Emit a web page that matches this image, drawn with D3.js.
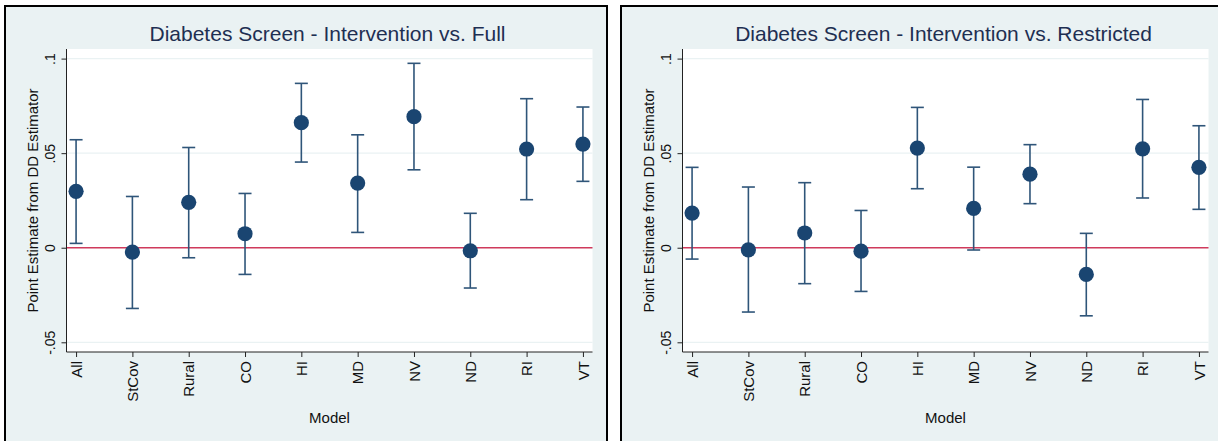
<!DOCTYPE html>
<html>
<head>
<meta charset="utf-8">
<script src="https://cdn.jsdelivr.net/npm/d3@7"></script>
<style>
  body { margin: 0; background: #fff; }
  text { font-family: "Liberation Sans", Arial, sans-serif; }
</style>
</head>
<body>
<div class="chart"></div>
<script>
// categories (models)
const models = ["All", "StCov", "Rural", "CO", "HI", "MD", "NV", "ND", "RI", "VT"];

// Intervention vs. Full
const fullEst = [0.0298, -0.0023, 0.0240, 0.0074, 0.0661, 0.0342, 0.0693, -0.0016, 0.0522, 0.0548];
const fullLo  = [0.0023, -0.0321, -0.0053, -0.0141, 0.0453, 0.0081, 0.0412, -0.0213, 0.0254, 0.0351];
const fullHi  = [0.0571, 0.0271, 0.0530, 0.0287, 0.0869, 0.0597, 0.0975, 0.0182, 0.0788, 0.0744];

// Intervention vs. Restricted
const restEst = [0.0183, -0.0011, 0.0078, -0.0018, 0.0527, 0.0208, 0.0389, -0.0141, 0.0523, 0.0425];
const restLo  = [-0.0060, -0.0340, -0.0190, -0.0231, 0.0312, -0.0012, 0.0233, -0.0360, 0.0263, 0.0203];
const restHi  = [0.0425, 0.0321, 0.0344, 0.0197, 0.0742, 0.0426, 0.0545, 0.0076, 0.0784, 0.0645];

const titles = ["Diabetes Screen - Intervention vs. Full", "Diabetes Screen - Intervention vs. Restricted"];
const yTicks = [-0.05, 0, 0.05, 0.1];
const yTickLabels = ["-.05", "0", ".05", ".1"];

const W = 1218, H = 441;
const PanelOffset = 616;
const Plot = { left: 66.5, right: 592.5, top: 49, bottom: 352 };

const svg = d3.select(".chart").append("svg")
    .attr("width", W)
    .attr("height", H);

// scales (same for both panels)
const x = d3.scalePoint().domain(models).range([Plot.left, Plot.right]).padding(0.17);
const y = d3.scaleLinear().domain([-0.05, 0.1]).range([342.3, 58.6]);

const panels = [
  { est: fullEst, lo: fullLo, hi: fullHi, title: titles[0] },
  { est: restEst, lo: restLo, hi: restHi, title: titles[1] }
];

panels.forEach((p, i) => {
  const g = svg.append("g").attr("transform", "translate(" + (i * PanelOffset) + ",0)");

  // outer panel box
  g.append("rect")
    .attr("x", 5).attr("y", 6)
    .attr("width", 602).attr("height", 460)
    .attr("fill", "#eaf2f3")
    .attr("stroke", "#000")
    .attr("stroke-width", 2);

  // plot region
  g.append("rect")
    .attr("x", Plot.left).attr("y", Plot.top)
    .attr("width", Plot.right - Plot.left).attr("height", Plot.bottom - Plot.top)
    .attr("fill", "#fff");

  // gridlines
  g.selectAll(".grid").data(yTicks).enter().append("line")
    .attr("x1", Plot.left).attr("x2", Plot.right)
    .attr("y1", d => y(d)).attr("y2", d => y(d))
    .attr("stroke", "#eaf2f3").attr("stroke-width", 1.2);

  // zero reference line
  g.append("line")
    .attr("x1", Plot.left).attr("x2", Plot.right)
    .attr("y1", y(0)).attr("y2", y(0))
    .attr("stroke", "#d03a5c").attr("stroke-width", 1.6);

  // y axis
  const yAxis = g.append("g")
    .attr("transform", "translate(" + Plot.left + ",0)")
    .call(d3.axisLeft(y).tickValues(yTicks).tickSize(5).tickFormat((d, j) => yTickLabels[j]));
  yAxis.select(".domain").attr("d", "M0," + Plot.top + "V" + Plot.bottom).attr("stroke", "#222");
  yAxis.selectAll(".tick line").attr("stroke", "#222");
  yAxis.selectAll(".tick text")
    .attr("x", null).attr("dy", null)
    .attr("transform", "translate(-12,0) rotate(-90)")
    .attr("text-anchor", "middle")
    .style("font-size", "14px")
    .attr("fill", "#111");

  // x axis
  const xAxis = g.append("g")
    .attr("transform", "translate(0," + Plot.bottom + ")")
    .call(d3.axisBottom(x).tickSize(5).tickSizeOuter(0));
  xAxis.select(".domain").attr("d", "M" + Plot.left + ",0H" + Plot.right).attr("stroke", "#222");
  xAxis.selectAll(".tick line").attr("stroke", "#222");
  xAxis.selectAll(".tick text")
    .attr("y", null).attr("dy", null)
    .attr("transform", "translate(0,9) rotate(-90)")
    .attr("dy", "0.35em")
    .attr("text-anchor", "end")
    .style("font-size", "15px")
    .attr("fill", "#111");

  // error bars
  const bars = g.selectAll(".bar").data(models).enter().append("g");
  bars.append("line")
    .attr("x1", d => x(d)).attr("x2", d => x(d))
    .attr("y1", (d, j) => y(p.lo[j])).attr("y2", (d, j) => y(p.hi[j]))
    .attr("stroke", "#2f5579").attr("stroke-width", 1.6);
  bars.append("line")
    .attr("x1", d => x(d) - 6.5).attr("x2", d => x(d) + 6.5)
    .attr("y1", (d, j) => y(p.lo[j])).attr("y2", (d, j) => y(p.lo[j]))
    .attr("stroke", "#2f5579").attr("stroke-width", 1.6);
  bars.append("line")
    .attr("x1", d => x(d) - 6.5).attr("x2", d => x(d) + 6.5)
    .attr("y1", (d, j) => y(p.hi[j])).attr("y2", (d, j) => y(p.hi[j]))
    .attr("stroke", "#2f5579").attr("stroke-width", 1.6);

  // point estimates
  g.selectAll(".dot").data(models).enter().append("circle")
    .attr("cx", d => x(d))
    .attr("cy", (d, j) => y(p.est[j]))
    .attr("r", 7.6)
    .attr("fill", "#1a4571");

  // title
  g.append("text")
    .attr("x", (Plot.left + Plot.right) / 2 - 2)
    .attr("y", 41)
    .attr("text-anchor", "middle")
    .style("font-size", "21px")
    .attr("fill", "#1e2f52")
    .text(p.title);

  // y axis label
  g.append("text")
    .attr("transform", "translate(38," + ((Plot.top + Plot.bottom) / 2) + ") rotate(-90)")
    .attr("text-anchor", "middle")
    .style("font-size", "15px")
    .attr("fill", "#111")
    .text("Point Estimate from DD Estimator");

  // x axis label
  g.append("text")
    .attr("x", (Plot.left + Plot.right) / 2)
    .attr("y", 423)
    .attr("text-anchor", "middle")
    .style("font-size", "15px")
    .attr("fill", "#111")
    .text("Model");
});
</script>
</body>
</html>
